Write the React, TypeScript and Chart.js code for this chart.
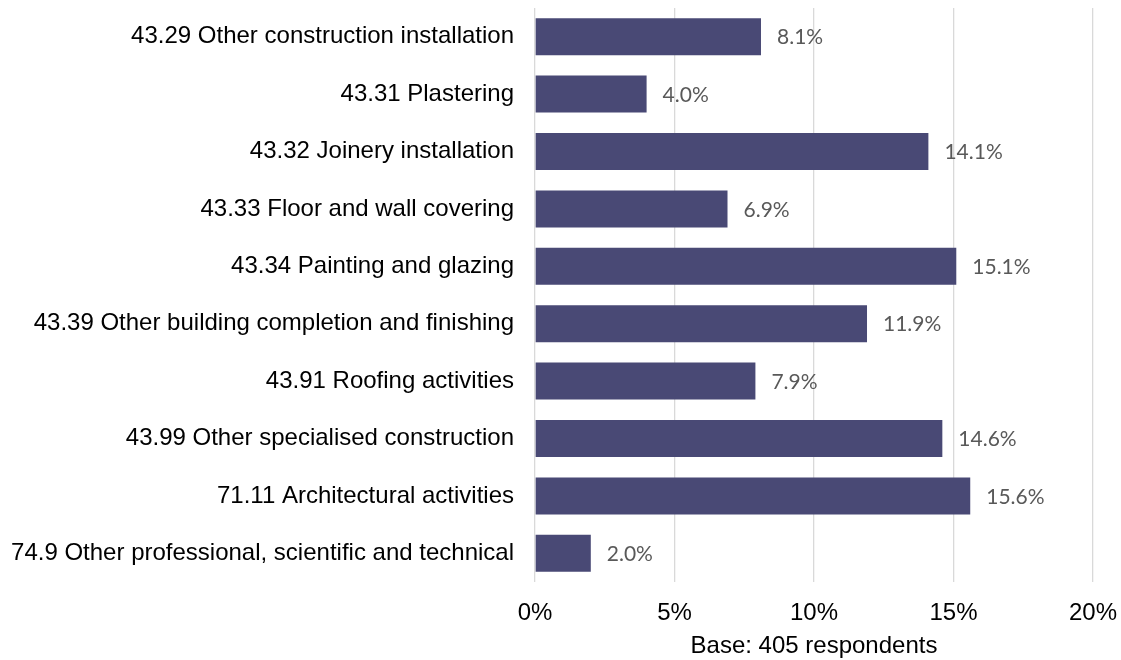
import React, { useEffect, useRef } from "react";
import { Chart, registerables } from "chart.js";

Chart.register(...registerables);

const categories: string[] = [
  "43.29 Other construction installation",
  "43.31 Plastering",
  "43.32 Joinery installation",
  "43.33 Floor and wall covering",
  "43.34 Painting and glazing",
  "43.39 Other building completion and finishing",
  "43.91 Roofing activities",
  "43.99 Other specialised construction",
  "71.11 Architectural activities",
  "74.9 Other professional, scientific and technical",
];

const shares: number[] = [8.1, 4.0, 14.1, 6.9, 15.1, 11.9, 7.9, 14.6, 15.6, 2.0];

const axisTitle = "Base: 405 respondents";
const xMin = 0;
const xMax = 20;
const xStep = 5;

const dataLabelPlugin = {
  id: "dataLabels",
  afterDatasetsDraw(chart: any) {
    const ctx = chart.ctx;
    const meta = chart.getDatasetMeta(0);
    ctx.save();
    ctx.font = "21px Lato";
    ctx.fillStyle = "#595959";
    ctx.textAlign = "left";
    ctx.textBaseline = "middle";
    meta.data.forEach((bar: any, i: number) => {
      const v = chart.data.datasets[0].data[i] as number;
      ctx.fillText(v.toFixed(1) + "%", bar.x + 16, bar.y + 1);
    });
    ctx.restore();
  },
};

const zeroPad = (scale: any) => {
  scale.paddingTop = 0;
  scale.paddingBottom = 0;
  scale.paddingLeft = 0;
  scale.paddingRight = 0;
};

export default function App() {
  const canvasRef = useRef<HTMLCanvasElement | null>(null);

  useEffect(() => {
    if (!canvasRef.current) return;
    const chart = new Chart(canvasRef.current, {
      type: "bar",
      data: {
        labels: categories,
        datasets: [
          {
            data: shares,
            backgroundColor: "#494975",
            borderWidth: 0,
            barPercentage: 1,
            categoryPercentage: 0.645,
          },
        ],
      },
      options: {
        indexAxis: "y",
        responsive: false,
        animation: false,
        layout: { padding: { top: 8, right: 28, bottom: 0, left: 0 } },
        plugins: {
          legend: { display: false },
          tooltip: { enabled: false },
        },
        scales: {
          x: {
            min: xMin,
            max: xMax,
            grid: { color: "#d9d9d9", lineWidth: 1.3, drawTicks: false },
            border: { display: false },
            ticks: {
              stepSize: xStep,
              padding: 17,
              color: "#000000",
              font: { family: "'Liberation Sans', Arial", size: 24 },
              callback: (v: any) => v + "%",
            },
            title: {
              display: true,
              text: axisTitle,
              color: "#000000",
              font: { family: "'Liberation Sans', Arial", size: 24, lineHeight: 1.1 },
              padding: { top: 0, bottom: 0 },
            },
            afterFit: (scale: any) => {
              scale.height = 78;
              zeroPad(scale);
            },
          },
          y: {
            grid: { display: false, drawTicks: false },
            border: { display: false },
            ticks: {
              padding: 21,
              color: "#000000",
              font: { family: "'Liberation Sans', Arial", size: 24 },
            },
            afterFit: (scale: any) => {
              scale.width = 535;
              zeroPad(scale);
            },
          },
        },
      },
      plugins: [dataLabelPlugin],
    });
    return () => chart.destroy();
  }, []);

  return (
    <div style={{ position: "fixed", left: 0, top: 0, width: 1121, height: 660, background: "#ffffff" }}>
      <canvas ref={canvasRef} width={1121} height={660} style={{ display: "block" }} />
    </div>
  );
}
